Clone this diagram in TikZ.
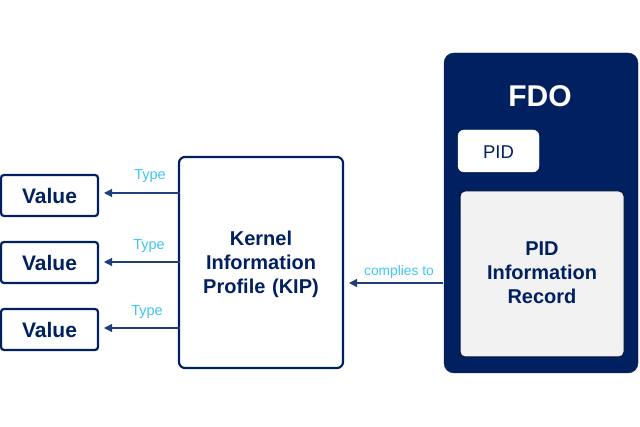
\documentclass[tikz,border=0pt]{standalone}
\usepackage{fontspec}
\setmainfont{Liberation Sans}
\usetikzlibrary{arrows.meta}
\definecolor{navy}{HTML}{002060}
\definecolor{linkblue}{HTML}{1F3F7A}
\definecolor{skyblue}{HTML}{3EC6F5}
\definecolor{paper}{HTML}{F2F2F2}
\begin{document}
\begin{tikzpicture}[x=1pt,y=-1pt,
  valuebox/.style={draw=navy,line width=2.2pt,rounded corners=3pt,fill=white},
  boxtext/.style={text=navy,font=\bfseries\fontsize{20}{24}\selectfont,align=center},
  link/.style={draw=linkblue,line width=1.1pt,-{Triangle[length=8pt,width=8pt]}},
  linklabel/.style={text=skyblue,font=\fontsize{14.5}{17}\selectfont}]
\useasboundingbox (0,0) rectangle (640,427);

% value boxes on the left
\foreach \n/\t/\b in {1/175/216,2/242/283,3/309/350}{
  \draw[valuebox] (1,\t) rectangle (98,\b);
  \node[boxtext,font=\bfseries\fontsize{21}{24}\selectfont] (v\n) at (49.5,{(\t+\b)/2}) {Value};
}

% kernel information profile
\draw[draw=navy,line width=2.2pt,rounded corners=6pt,fill=white] (179,157) rectangle (343,368);
\node[boxtext,text width=150pt] (kip) at (261,264) {Kernel\\Information\\Profile (KIP)};

% FDO container
\draw[fill=navy,draw=navy,rounded corners=10pt] (444,53) rectangle (638,373);
\node[text=white,font=\bfseries\fontsize{30}{36}\selectfont] (fdo) at (540,96) {FDO};
\draw[fill=white,draw=white,rounded corners=6pt] (458,130) rectangle (539,172);
\node[text=navy,font=\fontsize{18.5}{22}\selectfont] (pid) at (498.5,152) {PID};
\draw[fill=paper,draw=black!45!navy,line width=1pt,rounded corners=5pt] (460,191) rectangle (624,357);
\node[boxtext,text width=150pt] (pir) at (542,273) {PID\\Information\\Record};

% connectors
\coordinate (k1) at (180,193);
\coordinate (k2) at (180,262);
\coordinate (k3) at (180,328);
\coordinate (t1) at (104,193);
\coordinate (t2) at (104,262);
\coordinate (t3) at (104,328);
\draw[link] (k1) -- (t1);
\draw[link] (k2) -- (t2);
\draw[link] (k3) -- (t3);
\node[linklabel] (l1) at (150,176) {Type};
\node[linklabel] (l2) at (149,246) {Type};
\node[linklabel] (l3) at (147,312) {Type};

\coordinate (f) at (443,283);
\coordinate (kt) at (349,283);
\draw[link] (f) -- (kt);
\node[linklabel,font=\fontsize{13.8}{16}\selectfont] (c) at (399,272) {complies to};
\end{tikzpicture}
\end{document}
